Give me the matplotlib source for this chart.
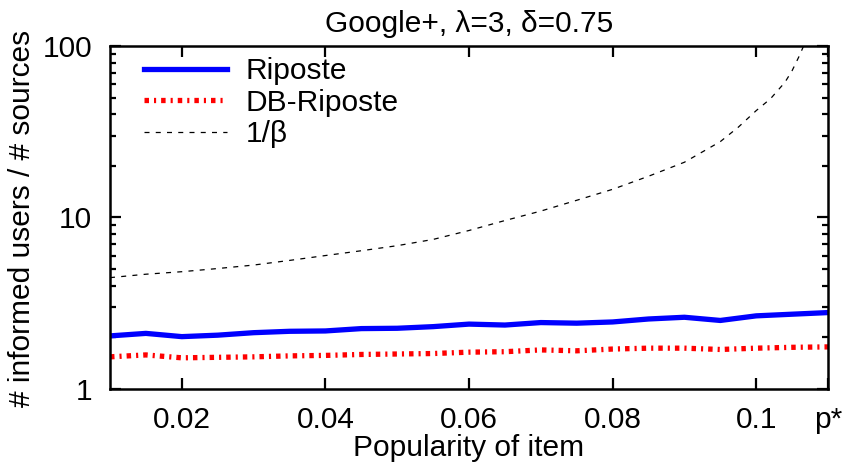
import matplotlib
matplotlib.use('Agg')
import matplotlib.pyplot as plt
from matplotlib.ticker import FixedLocator, LogLocator, NullFormatter

plt.rcParams['font.family'] = ['Liberation Sans', 'DejaVu Sans']
plt.rcParams['font.size'] = 21.5

# values
popularity = [0.01, 0.015, 0.02, 0.025, 0.03, 0.035, 0.04, 0.045, 0.05, 0.055, 0.06,
              0.065, 0.07, 0.075, 0.08, 0.085, 0.09, 0.095, 0.1, 0.105, 0.11]
riposte = [2.04, 2.11, 2.02, 2.06, 2.13, 2.17, 2.18, 2.25, 2.26, 2.31, 2.39,
           2.36, 2.44, 2.42, 2.46, 2.56, 2.62, 2.51, 2.67, 2.73, 2.79]
db_riposte = [1.54, 1.58, 1.52, 1.53, 1.54, 1.56, 1.57, 1.59, 1.60, 1.61, 1.64,
              1.65, 1.69, 1.67, 1.71, 1.73, 1.73, 1.70, 1.73, 1.75, 1.76]

beta_p = [0.01, 0.015, 0.02, 0.025, 0.03, 0.035, 0.04, 0.045, 0.05, 0.055, 0.06,
          0.065, 0.07, 0.075, 0.08, 0.085, 0.09, 0.095, 0.0975, 0.1, 0.102,
          0.104, 0.105, 0.106, 0.1066]
inv_beta = [4.46, 4.67, 4.83, 5.04, 5.28, 5.62, 6.0, 6.4, 6.85, 7.45, 8.4,
            9.6, 10.9, 12.6, 14.6, 17.4, 21.0, 27.7, 33.6, 42.0, 49.3,
            61.4, 71.8, 87.5, 100.0]

xtick_vals = [0.02, 0.04, 0.06, 0.08, 0.1, 0.11]
xtick_labels = ['0.02', '0.04', '0.06', '0.08', '0.1', 'p*']

W, H = 852, 469
fig = plt.figure(figsize=(W / 100, H / 100), dpi=100)
ax = fig.add_axes([110 / W, 80 / H, 718 / W, 343 / H])

ax.plot(popularity, riposte, color='#0000ff', lw=3.8, label='Riposte')
ax.plot(popularity, db_riposte, color='#ff0000', lw=3.8, dashes=(0.85, 0.95, 0.4, 0.95),
        dash_capstyle='butt', label='DB-Riposte')
ax.plot(beta_p, inv_beta, color='black', lw=0.9, dashes=(4, 5), label='1/β')

ax.set_yscale('log')
ax.set_xlim(0.01, 0.11)
ax.set_ylim(1, 100)

ax.xaxis.set_major_locator(FixedLocator(xtick_vals))
ax.set_xticklabels(xtick_labels)
ax.yaxis.set_major_locator(FixedLocator([1, 10, 100]))
ax.set_yticklabels(['1', '10', '100'])
ax.yaxis.set_minor_locator(LogLocator(base=10, subs=range(2, 10)))
ax.yaxis.set_minor_formatter(NullFormatter())

ax.tick_params(which='both', direction='in', top=True, right=True, width=1.6)
ax.tick_params(which='major', length=8)
ax.tick_params(which='minor', length=4.5)
ax.tick_params(axis='x', pad=12)
ax.tick_params(axis='y', pad=13)
for s in ax.spines.values():
    s.set_linewidth(1.8)

ax.set_xlabel('Popularity of item')
ax.xaxis.set_label_coords(0.5, -0.13)
fig.text(22 / W, 1 - 218 / H, '# informed users / # sources', rotation=90,
         ha='center', va='center')
fig.text(0.551, 1 - 24 / H, 'Google+, λ=3, δ=0.75', ha='center', va='center')

ax.legend(loc='upper left', bbox_to_anchor=(0.048, 0.968), frameon=False,
          handlelength=2.75, handletextpad=0.65, labelspacing=0.12,
          borderaxespad=0, borderpad=0)

fig.savefig('out.png', dpi=100)
